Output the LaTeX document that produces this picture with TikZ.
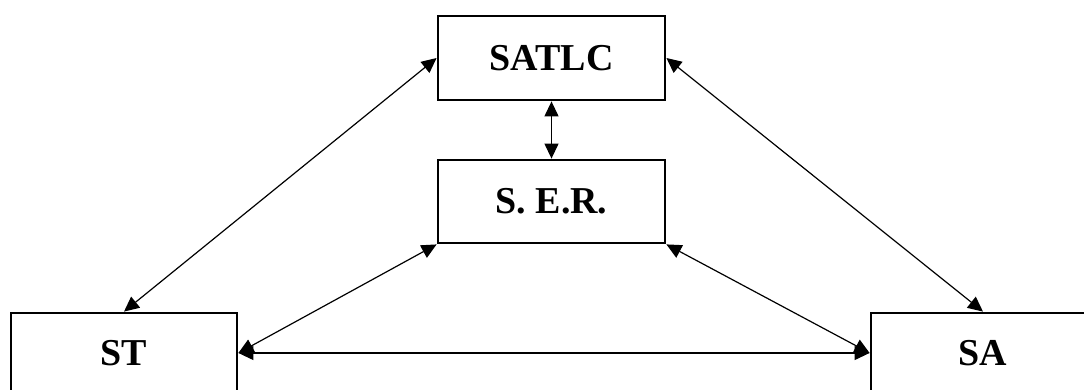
\documentclass[tikz,border=0pt]{standalone}
\usepackage{fontspec}
\setmainfont{Liberation Serif}
\usetikzlibrary{arrows.meta}
\begin{document}
\begin{tikzpicture}[x=1pt,y=-1pt,
  boxnode/.style={draw,line width=2.8pt,minimum width=227pt,inner sep=0pt,font=\fontsize{38}{40}\selectfont\bfseries},
  link/.style={line width=1.2pt,{Triangle[length=15pt,width=14pt]}-{Triangle[length=15pt,width=14pt]}}]
\useasboundingbox (0,0) rectangle (1084,390);
\clip (0,0) rectangle (1084,390);
\node[boxnode,minimum height=84pt] (satlc) at (551.5,58) {\raisebox{-3pt}{SATLC}};
\node[boxnode,minimum height=83pt] (ser) at (551.5,201.5) {\raisebox{-3pt}{S. E.R.}};
\node[boxnode,minimum width=226pt,minimum height=80pt] (st) at (124,353) {\raisebox{-3pt}{ST}};
\node[boxnode,minimum width=224pt,minimum height=80pt] (sa) at (983,353) {\raisebox{-5pt}{SA}};
\draw[link] (satlc.west) -- (st.north);
\draw[link] (satlc.east) -- (sa.north);
\draw[link] (satlc.south) -- (ser.north);
\draw[link] (ser.south west) -- (st.east);
\draw[link] (ser.south east) -- (sa.west);
\draw[link] (st.east) -- (sa.west);
\end{tikzpicture}
\end{document}
